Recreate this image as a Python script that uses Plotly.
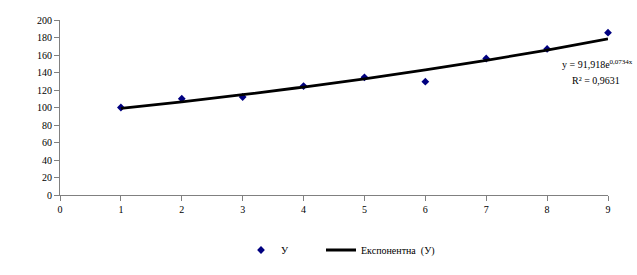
import plotly.graph_objects as go

x_vals = [1, 2, 3, 4, 5, 6, 7, 8, 9]
y_vals = [100, 110, 112, 124.5, 134.5, 129.5, 156, 167, 185.5]
trend_vals = [98.9, 106.5, 114.6, 123.4, 132.8, 143.0, 153.9, 165.7, 178.4]
y_ticks = list(range(0, 201, 20))
x_ticks = list(range(0, 10))

font = "'Liberation Serif', 'Times New Roman', serif"

L, R, T, B = 60, 29, 20, 79
PW = 637 - L - R
PH = 275 - T - B


def px_x(p):
    return (p - L) / PW


def px_y(p):
    return (275 - B - p) / PH


fig = go.Figure()
fig.add_trace(go.Scatter(
    x=x_vals, y=y_vals, mode="markers", name="У",
    marker=dict(symbol="diamond", size=6, color="#000080"),
    cliponaxis=False, legend="legend",
))
fig.add_trace(go.Scatter(
    x=x_vals, y=trend_vals, mode="lines", name="Експонентна  (У)",
    line=dict(color="black", width=2.8, shape="spline"),
    cliponaxis=False, legend="legend2",
))

legend_common = dict(orientation="h", xanchor="left", yanchor="middle",
                     font=dict(family=font, size=10, color="black"),
                     bgcolor="rgba(0,0,0,0)", borderwidth=0)

fig.update_layout(
    width=637, height=275, autosize=False,
    margin=dict(l=L, r=R, t=T, b=B),
    paper_bgcolor="white", plot_bgcolor="white",
    font=dict(family=font, size=10, color="black"),
    showlegend=True,
    legend=dict(x=px_x(241), y=px_y(250), **legend_common),
    legend2=dict(x=px_x(321), y=px_y(250), **legend_common),
    xaxis=dict(range=[0, 9], tickvals=x_ticks, showgrid=False, zeroline=False,
               showline=True, linecolor="#808080", linewidth=1,
               ticks="outside", ticklen=5, tickcolor="#808080",
               tickfont=dict(family=font, size=10, color="black")),
    yaxis=dict(range=[0, 200], tickvals=y_ticks, showgrid=False, zeroline=False,
               showline=True, linecolor="#808080", linewidth=1,
               ticks="outside", ticklen=5, tickcolor="#808080",
               tickfont=dict(family=font, size=10, color="black")),
    annotations=[
        dict(xref="paper", yref="paper", x=px_x(597), y=px_y(64), xanchor="center", yanchor="middle",
             text="y = 91,918e<sup>0,0734x</sup>", showarrow=False,
             font=dict(family=font, size=10, color="black")),
        dict(xref="paper", yref="paper", x=px_x(596), y=px_y(81), xanchor="center", yanchor="middle",
             text="R² = 0,9631", showarrow=False,
             font=dict(family=font, size=10, color="black")),
    ],
)

fig.write_html("out.html")
